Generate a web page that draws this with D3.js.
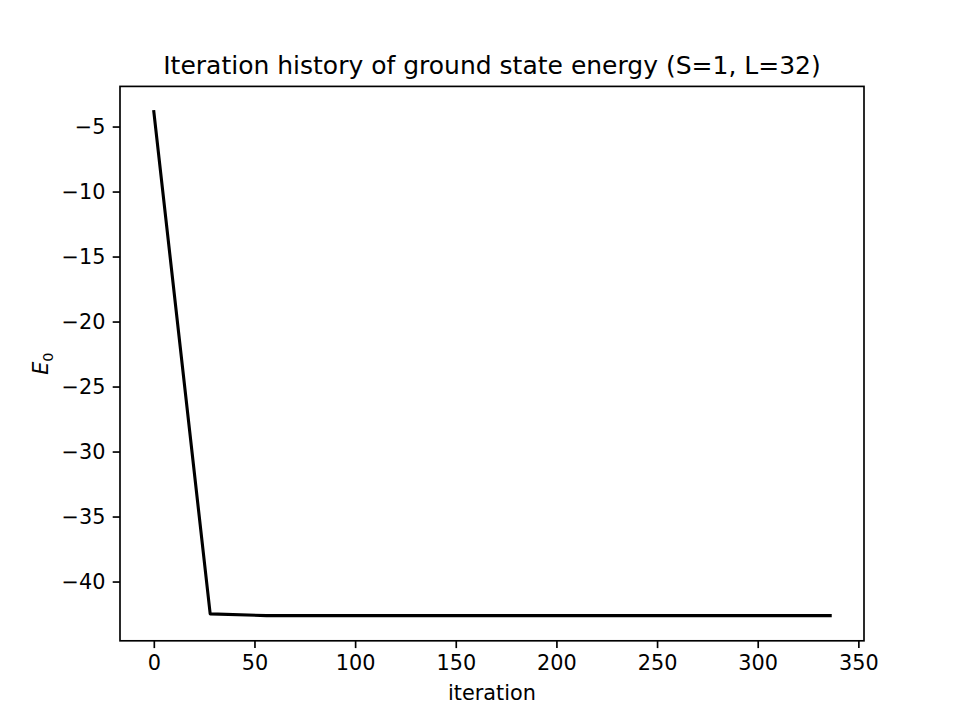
<!DOCTYPE html>
<html>
<head>
<meta charset="utf-8">
<script src="https://cdn.jsdelivr.net/npm/d3@7"></script>
<style>
  body { margin: 0; background: #fff; }
  text { font-family: "DejaVu Sans", sans-serif; fill: #000; }
</style>
</head>
<body>
<div id="chart"></div>
<script>
// data
var iterations = [0, 28, 56, 84, 112, 140, 168, 196, 224, 252, 280, 308, 336];
var energies = [-3.85, -42.49, -42.62, -42.62, -42.62, -42.62, -42.62, -42.62, -42.62, -42.62, -42.62, -42.62, -42.62];
var xTicks = [0, 50, 100, 150, 200, 250, 300, 350];
var yTicks = [-5, -10, -15, -20, -25, -30, -35, -40];

var svgWidth = 960, svgHeight = 720;
var margin = { top: 86.4, right: 96, bottom: 79.2, left: 120 };
var width = svgWidth - margin.left - margin.right;
var height = svgHeight - margin.top - margin.bottom;

var svg = d3.select("#chart").append("svg")
  .attr("width", svgWidth)
  .attr("height", svgHeight);

var g = svg.append("g")
  .attr("transform", "translate(" + margin.left + "," + margin.top + ")");

// matplotlib style 5% margins
var xMin = d3.min(iterations), xMax = d3.max(iterations);
var xPad = (xMax - xMin) * 0.05;
var yMin = d3.min(energies), yMax = d3.max(energies);
var yPad = (yMax - yMin) * 0.05;

var x = d3.scaleLinear().domain([xMin - xPad, xMax + xPad]).range([0, width]);
var y = d3.scaleLinear().domain([yMin - yPad, yMax + yPad]).range([height, 0]);

var fmt = function (d) { return String(d).replace("-", "\u2212"); };

var xAxis = d3.axisBottom(x).tickValues(xTicks).tickFormat(fmt).tickSize(7.3).tickPadding(7.3);
var yAxis = d3.axisLeft(y).tickValues(yTicks).tickFormat(fmt).tickSize(7.3).tickPadding(7.3);

var gx = g.append("g")
  .attr("transform", "translate(0," + height + ")")
  .call(xAxis);
var gy = g.append("g").call(yAxis);

[gx, gy].forEach(function (a) {
  a.select(".domain").remove();
  a.selectAll(".tick line").attr("stroke", "#000").attr("stroke-width", 1.67);
  a.selectAll(".tick text").style("font-size", "20.8px").style("font-family", "DejaVu Sans");
});

// line
var line = d3.line()
  .x(function (d, i) { return x(iterations[i]); })
  .y(function (d) { return y(d); });

g.append("path")
  .datum(energies)
  .attr("fill", "none")
  .attr("stroke", "#000")
  .attr("stroke-width", 3.1)
  .attr("stroke-linejoin", "round")
  .attr("stroke-linecap", "square")
  .attr("d", line);

// frame
g.append("rect")
  .attr("width", width)
  .attr("height", height)
  .attr("fill", "none")
  .attr("stroke", "#000")
  .attr("stroke-width", 1.67);

// title and labels
svg.append("text")
  .attr("x", margin.left + width / 2)
  .attr("y", margin.top - 12.5)
  .attr("text-anchor", "middle")
  .style("font-size", "25px")
  .text("Iteration history of ground state energy (S=1, L=32)");

svg.append("text")
  .attr("x", margin.left + width / 2)
  .attr("y", 700)
  .attr("text-anchor", "middle")
  .style("font-size", "20.8px")
  .text("iteration");

var yl = svg.append("text")
  .attr("transform", "translate(48," + (margin.top + height / 2) + ") rotate(-90)")
  .attr("text-anchor", "middle")
  .style("font-size", "20.8px");
yl.append("tspan").style("font-style", "italic").text("E");
yl.append("tspan").attr("dy", 4.5).style("font-size", "14.6px").text("0");
</script>
</body>
</html>
